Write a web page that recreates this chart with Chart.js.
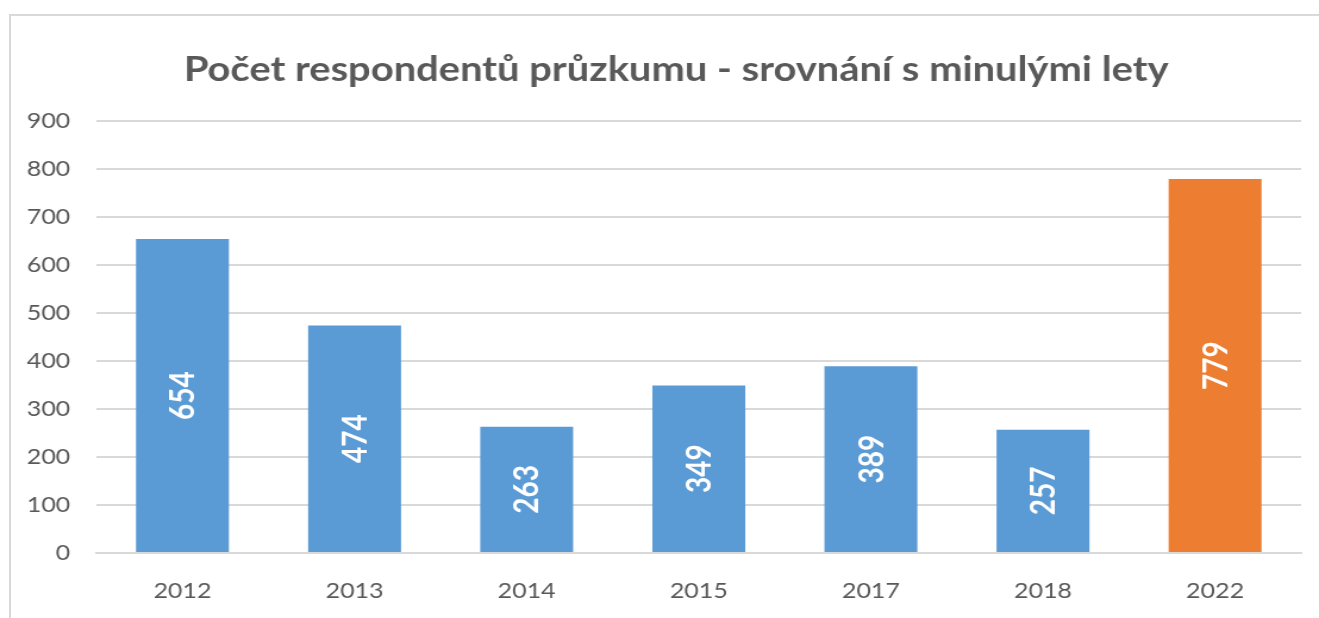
<!DOCTYPE html>
<html>
<head>
<meta charset="utf-8">
<script src="https://cdn.jsdelivr.net/npm/chart.js@4"></script>
<style>
  html, body { margin: 0; padding: 0; background: #fff; overflow: hidden; }
  #frame { position: absolute; left: 9px; top: 14px; width: 1400px; height: 700px; border: 2px solid #d9d9d9; }
  #chart { position: absolute; left: 0; top: 0; }
</style>
</head>
<body>
<div id="frame"></div>
<!-- the reference is stretched horizontally, so the canvas is drawn narrower and scaled up -->
<canvas id="chart" width="1108" height="618" style="width:1319px;height:618px"></canvas>
<script>
const chartTitle = 'Počet respondentů průzkumu - srovnání s minulými lety';
const years = ['2012', '2013', '2014', '2015', '2017', '2018', '2022'];
const respondents = [654, 474, 263, 349, 389, 257, 779];
const barColors = ['#5B9BD5', '#5B9BD5', '#5B9BD5', '#5B9BD5', '#5B9BD5', '#5B9BD5', '#ED7D31'];

// popisky hodnot uprostřed sloupců, otočené o 90°
const valueLabels = {
    id: 'valueLabels',
    afterDatasetsDraw(chart) {
        const ctx = chart.ctx;
        const meta = chart.getDatasetMeta(0);
        ctx.save();
        ctx.fillStyle = '#ffffff';
        ctx.font = 'bold 28px Lato';
        ctx.textAlign = 'center';
        ctx.textBaseline = 'middle';
        meta.data.forEach(function (bar, i) {
            const cy = (bar.y + bar.base) / 2;
            ctx.save();
            ctx.translate(bar.x, cy);
            ctx.rotate(-Math.PI / 2);
            ctx.fillText(String(respondents[i]), 0, 1);
            ctx.restore();
        });
        ctx.restore();
    }
};

// nadpis - kreslený zvlášť, aby šel posunout mimo střed
const titlePlugin = {
    id: 'titlePlugin',
    afterDraw(chart) {
        const ctx = chart.ctx;
        ctx.save();
        ctx.fillStyle = '#595959';
        ctx.font = 'bold 33.5px Lato';
        ctx.textAlign = 'center';
        ctx.textBaseline = 'middle';
        ctx.fillText(chartTitle, chart.width / 2 + 14, 70);
        ctx.restore();
    }
};

new Chart(document.getElementById('chart'), {
    type: 'bar',
    data: {
        labels: years,
        datasets: [{
            data: respondents,
            backgroundColor: barColors,
            categoryPercentage: 1,
            barPercentage: 0.54
        }]
    },
    options: {
        responsive: false,
        animation: false,
        layout: { padding: { left: 0, right: 15, top: 121, bottom: 0 } },
        plugins: {
            legend: { display: false },
            tooltip: { enabled: false },
            title: { display: false }
        },
        scales: {
            x: {
                grid: { display: false, drawTicks: false },
                border: { display: true, color: '#d9d9d9', width: 2 },
                ticks: { color: '#595959', font: { family: 'Lato', size: 21 }, padding: 26 },
                afterFit: function (s) { s.height = 65; }
            },
            y: {
                min: 0,
                max: 900,
                ticks: { stepSize: 100, color: '#595959', font: { family: 'Lato', size: 21 }, padding: 22 },
                grid: { color: '#d9d9d9', lineWidth: 2, drawTicks: false },
                border: { display: false },
                afterFit: function (s) { s.width = 81; }
            }
        }
    },
    plugins: [valueLabels, titlePlugin]
});
</script>
</body>
</html>
